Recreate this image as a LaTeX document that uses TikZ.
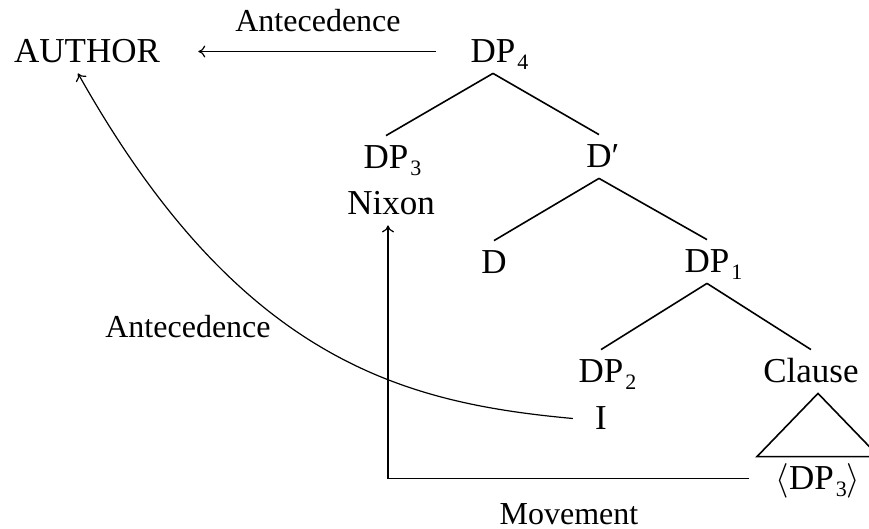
\documentclass[tikz,border=0pt]{standalone}
\usepackage{fontspec}
\setmainfont{Liberation Serif}
\usetikzlibrary{calc,arrows.meta}

% DP with a lowered index that does not count for centring
\newcommand{\DPi}[1]{DP\rlap{\kern1pt\raisebox{-3.5pt}{\fontsize{11}{11}\selectfont #1}}}

\begin{document}
\begin{tikzpicture}[x=0.5pt, y=-0.5pt,
  tree/.style={anchor=base, font=\fontsize{17.5}{20}\selectfont,
               text height=11.5pt, text depth=0pt, inner ysep=5pt, inner xsep=2pt},
  lbl/.style={anchor=base, font=\fontsize{16}{19}\selectfont},
  edge/.style={line width=0.8pt},
  link/.style={line width=0.6pt, -{To[length=3.5pt,width=6pt]}}]

\useasboundingbox (0,0) rectangle (869,529);

% ----- Tree nodes -----
\node[tree] (author) at (87,63)  {AUTHOR};
\node[tree] (dp4)    at (493,63) {\DPi{4}};
\node[tree] (dp3)    at (386,169) {\DPi{3}};
\node[tree] (nixon)  at (391,215) {Nixon};
\node[tree] (dbar)   at (599,168) {D\rlap{′}};
\node[tree] (d)      at (494,274) {D};
\node[tree] (dp1)    at (707,273) {\DPi{1}};
\node[tree] (dp2)    at (601,383) {\DPi{2}};
\node[tree] (i)      at (601,430) {I};
\node[tree] (clause) at (811,383) {Clause};
\node[tree] (trace)  at (818,490) {$\langle$DP\kern1pt\raisebox{-3.5pt}{\fontsize{11}{11}\selectfont 3}$\rangle$};

% ----- Branches -----
\foreach \a/\b in {dp4/dp3, dp4/dbar, dbar/d, dbar/dp1, dp1/dp2, dp1/clause}
  \draw[edge] (\a.south) -- (\b.north);

% triangle over the trace
\draw[edge] (clause.south -| trace.north) -- ($(trace.north)+(-61,0)$)
  -- ($(trace.north)+(61,0)$) -- cycle;

% ----- Relations -----
\draw[link] ([xshift=-15pt]dp4.west) -- ([xshift=17pt]author.east);
\draw[link] ([xshift=-9pt]i.west) .. controls (405,403) and (240,362) .. ([xshift=-4.5pt]author.south);
\draw[link] ([xshift=-11pt]trace.west) -| ([xshift=-1.5pt]nixon.south);

% ----- Labels -----
\node[lbl] (ante1) at (318,32)  {Antecedence};
\node[lbl] (ante2) at (188,338) {Antecedence};
\node[lbl] (move)  at (569,525) {Movement};

\end{tikzpicture}
\end{document}
